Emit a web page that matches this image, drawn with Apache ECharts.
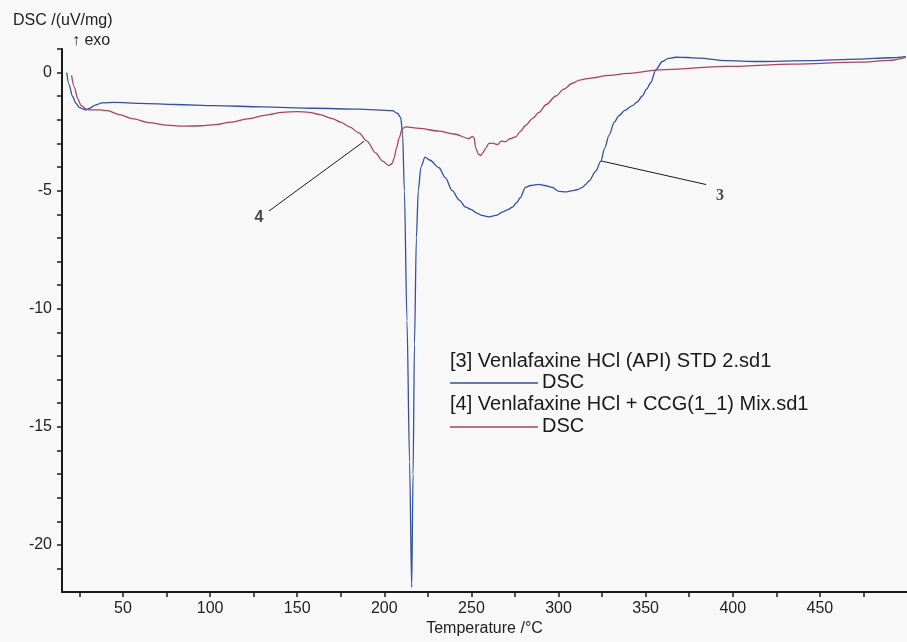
<!DOCTYPE html>
<html>
<head>
<meta charset="utf-8">
<script src="https://cdn.jsdelivr.net/npm/echarts@6/dist/echarts.min.js"></script>
<style>
  html, body { margin: 0; padding: 0; background: #f8f8f8; }
  #dsc-chart { width: 907px; height: 642px; }
</style>
</head>
<body>
<div id="dsc-chart"></div>
<script>
// [3] Venlafaxine HCl (API) STD 2.sd1  (blue)
var tempApi = [17.7, 19, 21, 23, 25, 28.5, 31, 34, 38, 45, 60, 80, 103, 130, 160, 185, 204.6, 207.5, 209.4,
  210.5, 211.5, 213, 214.5, 215.7, 216.5, 217.3, 218.4, 219.5, 221, 223.4, 226, 231.4, 235, 239, 243,
  246.7, 250, 253, 256, 260, 264, 268, 271, 273.5, 276, 278, 281, 284, 288.8, 292, 296.4, 300.3, 304,
  307.9, 311, 313.7, 315.6, 317.5, 321.4, 324.2, 326.5, 329, 332, 334.7, 338, 342.4, 345, 348.1, 350.5,
  352.9, 355.8, 359.6, 363, 367.3, 374, 380.6, 396, 415, 443.8, 472.5, 490, 499.3];
var dscApi = [0.0, -0.5, -1.0, -1.3, -1.48, -1.58, -1.5, -1.38, -1.28, -1.26, -1.3, -1.35, -1.4, -1.45, -1.51, -1.55, -1.61, -1.72, -1.9,
  -2.6, -5, -10.5, -16.5, -21.8, -17, -11.5, -7, -5, -4.0, -3.58, -3.7, -4.03, -4.45, -5.0, -5.4,
  -5.7, -5.8, -5.95, -6.05, -6.11, -6.05, -5.9, -5.8, -5.7, -5.5, -5.3, -4.86, -4.78, -4.73, -4.78, -4.86, -5.03, -5.05,
  -5.0, -4.95, -4.86, -4.73, -4.59, -4.17, -3.76, -3.2, -2.65, -2.1, -1.82, -1.6, -1.4, -1.25, -0.99, -0.7,
  -0.43, 0.12, 0.47, 0.6, 0.65, 0.64, 0.61, 0.51, 0.47, 0.51, 0.57, 0.63, 0.68];

// [4] Venlafaxine HCl + CCG(1_1) Mix.sd1  (red)
var tempMix = [20.5, 22, 24, 26, 29.5, 33, 37, 41, 48, 55.3, 65, 75, 84, 95, 103.2, 112, 122.3, 132, 141.5,
  150, 156.8, 163, 170.2, 175, 180, 185.4, 190, 195, 199, 202.7, 204.5, 205.6, 207, 208.4, 210.3, 212.3,
  220, 231.4, 240, 248.6, 250.5, 251.5, 252.5, 254, 255.3, 256.5, 258.2, 260, 262, 265, 267, 269.7, 272,
  275.4, 278, 281.2, 285, 288.8, 293, 298.4, 303, 307.9, 312, 317.5, 329, 340, 357.7, 396, 434.2, 472.5,
  490, 499.3];
var dscMix = [-0.12, -0.6, -1.1, -1.4, -1.57, -1.58, -1.58, -1.61, -1.78, -1.95, -2.12, -2.22, -2.27, -2.25, -2.2, -2.1, -1.95, -1.8, -1.68,
  -1.65, -1.68, -1.78, -1.95, -2.1, -2.3, -2.55, -2.9, -3.4, -3.75, -3.94, -3.85, -3.62, -3.2, -2.79, -2.37, -2.3,
  -2.36, -2.48, -2.6, -2.79, -2.7, -2.76, -3.2, -3.45, -3.51, -3.4, -3.2, -3.0, -2.99, -3.05, -2.9, -2.92, -2.8,
  -2.72, -2.5, -2.23, -1.95, -1.68, -1.35, -0.99, -0.7, -0.45, -0.32, -0.24, -0.12, -0.03, 0.12, 0.26, 0.36, 0.44,
  0.52, 0.65];

// axis ticks and labels
var xTickValues = [25, 50, 75, 100, 125, 150, 175, 200, 225, 250, 275, 300, 325, 350, 375, 400, 425, 450, 475];
var xLabelValues = [50, 100, 150, 200, 250, 300, 350, 400, 450];
var yTickValues = [1, 0, -1, -2, -3, -4, -5, -6, -7, -8, -9, -10, -11, -12, -13, -14, -15, -16, -17, -18, -19, -20, -21];
var yLabelValues = [0, -5, -10, -15, -20];

// leader lines for curve numbers
var leader3 = [[324.4, -3.74], [384.7, -4.74]];
var leader4 = [[188.4, -2.91], [133.8, -5.86]];
var tag3 = [392.7, -5.2];
var tag4 = [128.1, -6.15];

var legendTitles = ["[3] Venlafaxine HCl (API) STD 2.sd1", "[4] Venlafaxine HCl + CCG(1_1) Mix.sd1"];

var blueColor = "#34509e";
var redColor = "#a8445e";
var font = "'Liberation Sans', Arial, sans-serif";

function zip(xs, ys) {
  var out = [];
  xs.forEach(function (x, i) { out.push([x, ys[i]]); });
  return out;
}

var myChart = echarts.init(document.getElementById("dsc-chart"));
var option = {
  animation: false,
  backgroundColor: "#f8f8f8",
  grid: { left: 62, right: 0, top: 49, bottom: 40 },
  xAxis: {
    type: "value",
    min: 15,
    max: 500,
    name: "Temperature /°C",
    nameLocation: "middle",
    nameGap: 23,
    nameTextStyle: { color: "#222", fontSize: 16, fontFamily: font },
    axisLine: { onZero: false, lineStyle: { color: "#1a1a1a", width: 2 } },
    axisTick: { show: true, length: 5, customValues: xTickValues, lineStyle: { color: "#1a1a1a", width: 1.5 } },
    axisLabel: { customValues: xLabelValues, margin: 8, color: "#222", fontSize: 16, fontFamily: font },
    splitLine: { show: false }
  },
  yAxis: {
    type: "value",
    min: -22,
    max: 1,
    axisLine: { show: true, lineStyle: { color: "#1a1a1a", width: 2 } },
    axisTick: { show: true, length: 5, customValues: yTickValues, lineStyle: { color: "#1a1a1a", width: 1.5 } },
    axisLabel: { customValues: yLabelValues, margin: 10, color: "#222", fontSize: 16, fontFamily: font },
    splitLine: { show: false }
  },
  graphic: [
    { type: "text", left: 13, top: 13, style: { text: "DSC /(uV/mg)", fontSize: 16, fontFamily: font, fill: "#222" } },
    { type: "text", left: 72, top: 33, style: { text: "↑ exo", fontSize: 16, fontFamily: font, fill: "#222" } },
    { type: "text", left: 450, top: 351, style: { text: legendTitles[0], fontSize: 20, fontFamily: font, fill: "#1a1a1a" } },
    { type: "line", shape: { x1: 450, y1: 383, x2: 538, y2: 383 }, style: { stroke: blueColor, lineWidth: 1.3 } },
    { type: "text", left: 542, top: 372, style: { text: "DSC", fontSize: 20, fontFamily: font, fill: "#1a1a1a" } },
    { type: "text", left: 450, top: 394, style: { text: legendTitles[1], fontSize: 20, fontFamily: font, fill: "#1a1a1a" } },
    { type: "line", shape: { x1: 450, y1: 427, x2: 538, y2: 427 }, style: { stroke: redColor, lineWidth: 1.3 } },
    { type: "text", left: 542, top: 416, style: { text: "DSC", fontSize: 20, fontFamily: font, fill: "#1a1a1a" } }
  ],
  series: [
    {
      name: "DSC [3]",
      type: "line",
      data: zip(tempApi, dscApi),
      showSymbol: false,
      smooth: 0.3,
      smoothMonotone: "x",
      lineStyle: { color: blueColor, width: 1.3 }
    },
    {
      name: "DSC [4]",
      type: "line",
      data: zip(tempMix, dscMix),
      showSymbol: false,
      smooth: 0.3,
      smoothMonotone: "x",
      lineStyle: { color: redColor, width: 1.3 }
    },
    {
      type: "line", data: leader3, showSymbol: false, silent: true,
      lineStyle: { color: "#1a1a1a", width: 1 }
    },
    {
      type: "line", data: leader4, showSymbol: false, silent: true,
      lineStyle: { color: "#1a1a1a", width: 1 }
    },
    {
      type: "scatter", symbolSize: 0, silent: true,
      data: [tag3],
      label: { show: true, position: "inside", formatter: "3", fontSize: 16, fontWeight: "bold", color: "#1a1a1a", fontFamily: "'Liberation Serif', serif" }
    },
    {
      type: "scatter", symbolSize: 0, silent: true,
      data: [tag4],
      label: { show: true, position: "inside", formatter: "4", fontSize: 16, fontWeight: "bold", color: "#1a1a1a", fontFamily: font }
    }
  ]
};
myChart.setOption(option, true);
</script>
</body>
</html>
